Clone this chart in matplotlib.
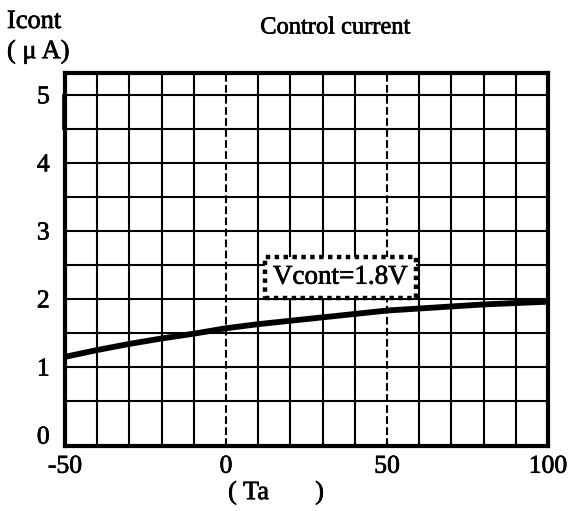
import numpy as np
import matplotlib
matplotlib.use('Agg')
import matplotlib.pyplot as plt
import matplotlib.patheffects as pe
from matplotlib.patches import Rectangle

plt.rcParams['font.family'] = ['Liberation Serif', 'DejaVu Serif']

# curve
temp = [-50, -40, -30, -20, -10, 0, 10, 20, 30, 40, 50, 60, 70, 80, 90, 100]
icont = [1.15, 1.25, 1.34, 1.42, 1.49, 1.57, 1.63, 1.68, 1.73, 1.78, 1.83, 1.86, 1.89, 1.92, 1.94, 1.96]

xticks = [-50, 0, 50, 100]
yticks = [0, 1, 2, 3, 4, 5]

heavy = [pe.withStroke(linewidth=0.5, foreground='black')]

fig = plt.figure(figsize=(5.72, 5.11), dpi=100)
ax = fig.add_axes([65/572, 1-446/511, (548-65)/572, (446-73)/511])

ax.set_xlim(-50, 100)
ax.set_ylim(-0.16, 5.32)

# grid
for x in range(-40, 100, 10):
    ls = '--' if x in (0, 50) else '-'
    ax.axvline(x, color='black', lw=1.5, ls=ls, zorder=1)
for y in np.arange(0.5, 5.01, 0.5):
    ax.axhline(y, color='black', lw=1.5, zorder=1)

ax.plot(temp, icont, color='black', lw=4.2, solid_capstyle='butt', zorder=3, clip_on=False)

ax.text(35.5, 2.32, 'Vcont=1.8V', fontsize=19.5, ha='center', va='center', zorder=4,
        path_effects=heavy,
        bbox=dict(boxstyle='square,pad=0.3', fc='white', ec='black', lw=3.2, ls=(0, (1, 1))))

# small bracket on the left edge
ax.add_patch(Rectangle((-50.6, 4.5), 0.6, 0.5, fill=False, lw=1.2, ec='black', clip_on=False))

for s in ax.spines.values():
    s.set_linewidth(3)

ax.set_xticks(xticks)
ax.set_yticks(yticks)
ax.set_xticklabels([str(v) for v in xticks])
ax.set_yticklabels([str(v) for v in yticks])
ax.tick_params(length=0, labelsize=18.5)
ax.tick_params(axis='y', pad=11)
ax.tick_params(axis='x', pad=7)
for lab in ax.get_xticklabels() + ax.get_yticklabels():
    lab.set_path_effects(heavy)

fig.text(335/572, 1-28/511, 'Control current', fontsize=17.6, ha='center', va='center', path_effects=heavy)
fig.text(7/572, 1-22/511, 'Icont', fontsize=19, ha='left', va='center', path_effects=heavy)
fig.text(7/572, 1-52/511, '( μ A)', fontsize=19, ha='left', va='center', path_effects=heavy)
fig.text(276/572, 1-493/511, '( Ta       )', fontsize=19, ha='center', va='center', path_effects=heavy)

fig.savefig('out.png', dpi=100)
